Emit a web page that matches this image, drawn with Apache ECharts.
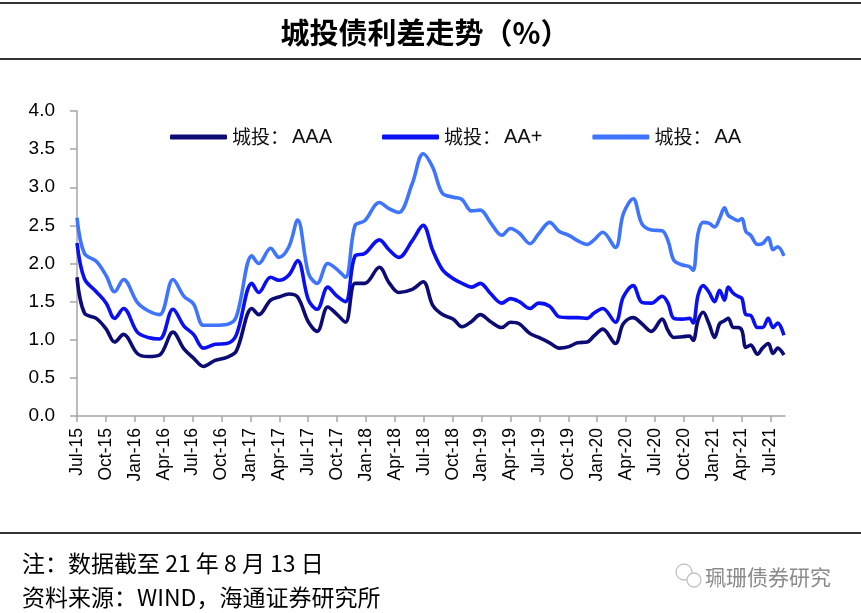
<!DOCTYPE html>
<html>
<head>
<meta charset="utf-8">
<script src="https://cdn.jsdelivr.net/npm/echarts@6/dist/echarts.min.js"></script>
<style>
html,body{margin:0;padding:0;background:#fff;}
#c{width:861px;height:613px;}
</style>
</head>
<body>
<div id="c"></div>
<script>
// ---- data ----
const dates = [
 '2015-07-01','2015-07-25','2015-09-01','2015-10-02','2015-10-29','2015-11-26',
 '2016-01-09','2016-02-12','2016-03-19','2016-04-30','2016-06-04','2016-07-04',
 '2016-08-05','2016-09-11','2016-10-18','2016-11-17',
 '2017-01-06','2017-01-28','2017-03-04','2017-03-31','2017-05-01','2017-05-29',
 '2017-07-02','2017-07-30','2017-09-02','2017-09-29','2017-10-28','2017-11-27','2017-12-28',
 '2018-02-12','2018-03-13','2018-04-13','2018-05-26','2018-06-29','2018-07-30',
 '2018-08-30','2018-10-03','2018-10-31','2018-11-30','2018-12-28',
 '2019-01-29','2019-03-04','2019-04-01','2019-04-28','2019-06-02','2019-06-29',
 '2019-08-03','2019-09-03','2019-10-03','2019-10-31','2019-11-30','2019-12-22',
 '2020-01-19','2020-02-27','2020-03-23','2020-04-23','2020-05-21','2020-06-20',
 '2020-07-24','2020-08-12','2020-08-31','2020-09-27','2020-10-19','2020-10-31',
 '2020-11-15','2020-12-01','2020-12-19',
 '2021-01-07','2021-01-23','2021-02-07','2021-02-18','2021-03-05','2021-03-20',
 '2021-04-02','2021-04-14','2021-04-29','2021-05-21','2021-06-06','2021-06-24',
 '2021-07-09','2021-07-24','2021-08-13'
];
const aaa = [
 1.82,1.35,1.28,1.14,0.97,1.07,
 0.82,0.78,0.80,1.10,0.88,0.76,
 0.65,0.73,0.77,0.85,
 1.41,1.33,1.52,1.56,1.60,1.56,
 1.23,1.11,1.43,1.34,1.23,1.74,1.74,
 1.95,1.75,1.62,1.66,1.76,1.45,
 1.33,1.27,1.17,1.24,1.33,
 1.24,1.16,1.23,1.21,1.08,1.03,
 0.96,0.89,0.91,0.96,0.97,1.05,
 1.14,0.95,1.21,1.29,1.21,1.11,
 1.27,1.12,1.03,1.04,1.05,0.99,
 1.25,1.36,1.22,
 1.03,1.21,1.25,1.28,1.16,1.16,
 1.12,0.90,0.93,0.81,0.89,0.95,
 0.82,0.89,0.80
];
const aaPlus = [
 2.27,1.80,1.63,1.48,1.28,1.41,
 1.10,1.03,1.01,1.40,1.18,1.07,
 0.89,0.94,0.95,1.06,
 1.74,1.62,1.82,1.78,1.85,2.04,
 1.52,1.40,1.69,1.58,1.50,2.10,2.13,
 2.31,2.18,2.08,2.30,2.50,2.17,
 1.92,1.80,1.74,1.69,1.74,
 1.61,1.48,1.54,1.50,1.41,1.48,
 1.44,1.30,1.29,1.29,1.28,1.35,
 1.41,1.23,1.56,1.71,1.49,1.48,
 1.57,1.48,1.28,1.27,1.28,1.22,
 1.58,1.71,1.63,
 1.50,1.65,1.52,1.69,1.61,1.57,
 1.54,1.33,1.32,1.16,1.16,1.28,
 1.16,1.22,1.06
];
const aa = [
 2.60,2.13,2.03,1.84,1.63,1.79,
 1.49,1.38,1.33,1.79,1.57,1.47,
 1.19,1.19,1.20,1.30,
 2.10,2.00,2.20,2.08,2.22,2.57,
 1.87,1.74,2.00,1.93,1.82,2.50,2.56,
 2.80,2.72,2.67,3.05,3.44,3.26,
 2.92,2.87,2.84,2.69,2.70,
 2.54,2.37,2.46,2.40,2.26,2.39,
 2.54,2.42,2.37,2.30,2.25,2.31,
 2.41,2.21,2.65,2.85,2.52,2.44,
 2.43,2.30,2.04,1.98,1.96,1.91,
 2.39,2.54,2.53,
 2.48,2.59,2.73,2.63,2.59,2.56,
 2.59,2.42,2.37,2.25,2.26,2.34,
 2.18,2.22,2.10
];
const seriesNames = ['城投：AAA','城投：AA+','城投：AA'];
const tickLabels = ['Jul-15','Oct-15','Jan-16','Apr-16','Jul-16','Oct-16','Jan-17','Apr-17','Jul-17',
 'Oct-17','Jan-18','Apr-18','Jul-18','Oct-18','Jan-19','Apr-19','Jul-19','Oct-19','Jan-20',
 'Apr-20','Jul-20','Oct-20','Jan-21','Apr-21','Jul-21'];

// month index from Jul-2015
function monthIndex(s){
  const [y,m,d] = s.split('-').map(Number);
  const dim = new Date(y, m, 0).getDate();
  return (y-2015)*12 + (m-7) + (d-1)/dim;
}
const xs = dates.map(monthIndex);
const pairs = arr => arr.map((v,i)=>[xs[i], v]);
const tickVals = tickLabels.map((_,i)=>i*3);

const chart = echarts.init(document.getElementById('c'));
const colors = ['#0c0c74','#0a10f2','#3f74fc'];
const latin = '"Liberation Sans", Arial, sans-serif';
const cjk = '"Noto Sans CJK SC", sans-serif';

chart.setOption({
  animation:false,
  backgroundColor:'#fff',
  color: colors,
  grid:{left:77, right:76, top:111, bottom:197, containLabel:false},
  legend:{
    left:165, top:122, itemWidth:57, itemHeight:5, icon:'roundRect', itemGap:50, itemTextGap:5,
    data: seriesNames,
    formatter: n => { const p = n.split('：'); return '{c|'+p[0]+'：}{e|'+p[1]+'}'; },
    textStyle:{ rich:{
      c:{fontFamily:cjk, fontSize:19, color:'#111'},
      e:{fontFamily:latin, fontSize:20, color:'#111', padding:[0,0,0,3]}
    }}
  },
  xAxis:{
    type:'value', min:0, max:73.5, interval:3,
    splitLine:{show:false},
    axisLine:{lineStyle:{color:'#a6a6a6', width:1.5}},
    axisTick:{show:true, length:6, customValues: tickVals, lineStyle:{color:'#a6a6a6', width:1.5}},
    axisLabel:{rotate:90, margin:12, customValues: tickVals, fontFamily:latin, fontSize:17.5, color:'#000',
      formatter: v => tickLabels[Math.round(v/3)] || ''}
  },
  yAxis:{
    type:'value', min:0, max:4, interval:0.5,
    splitLine:{show:false},
    axisLine:{show:true, lineStyle:{color:'#a6a6a6', width:1.5}},
    axisTick:{show:true, inside:false, length:7, lineStyle:{color:'#a6a6a6', width:1.5}},
    axisLabel:{margin:22, fontFamily:latin, fontSize:19, color:'#000', formatter: v => v.toFixed(1)}
  },
  series:[
    {name:seriesNames[0], type:'line', data:pairs(aaa), smooth:0.35, showSymbol:false, lineStyle:{width:3.6, color:colors[0]}, z:3},
    {name:seriesNames[1], type:'line', data:pairs(aaPlus), smooth:0.35, showSymbol:false, lineStyle:{width:3.6, color:colors[1]}, z:2},
    {name:seriesNames[2], type:'line', data:pairs(aa), smooth:0.35, showSymbol:false, lineStyle:{width:3.6, color:colors[2]}, z:1}
  ],
  graphic:[
    {type:'line', shape:{x1:0,y1:3,x2:861,y2:3}, style:{stroke:'#333', lineWidth:2}},
    {type:'text', x:425, y:33, style:{text:'城投债利差走势（%）', font:'bold 29px "Noto Sans CJK SC"', fill:'#000', textAlign:'center', textVerticalAlign:'middle'}},
    {type:'line', shape:{x1:0,y1:59,x2:861,y2:59}, style:{stroke:'#333', lineWidth:2}},
    {type:'line', shape:{x1:0,y1:533,x2:861,y2:533}, style:{stroke:'#333', lineWidth:2}},
    {type:'text', x:22, y:563, style:{text:'注：数据截至 21 年 8 月 13 日', font:'23px "Noto Sans CJK SC"', fill:'#000', textVerticalAlign:'middle'}},
    {type:'text', x:22, y:597, style:{text:'资料来源：WIND，海通证券研究所', font:'23px "Noto Sans CJK SC"', fill:'#000', textVerticalAlign:'middle'}},
    {type:'circle', shape:{cx:684, cy:572, r:8}, style:{fill:'none', stroke:'#c4c4c4', lineWidth:1.3}},
    {type:'circle', shape:{cx:694, cy:580, r:7}, style:{fill:'#fff', stroke:'#c4c4c4', lineWidth:1.3}},
    {type:'text', x:705, y:577, style:{text:'珮珊债券研究', font:'21px "Noto Sans CJK SC"', fill:'#8a8a8a', textVerticalAlign:'middle'}}
  ]
});
</script>
</body>
</html>
